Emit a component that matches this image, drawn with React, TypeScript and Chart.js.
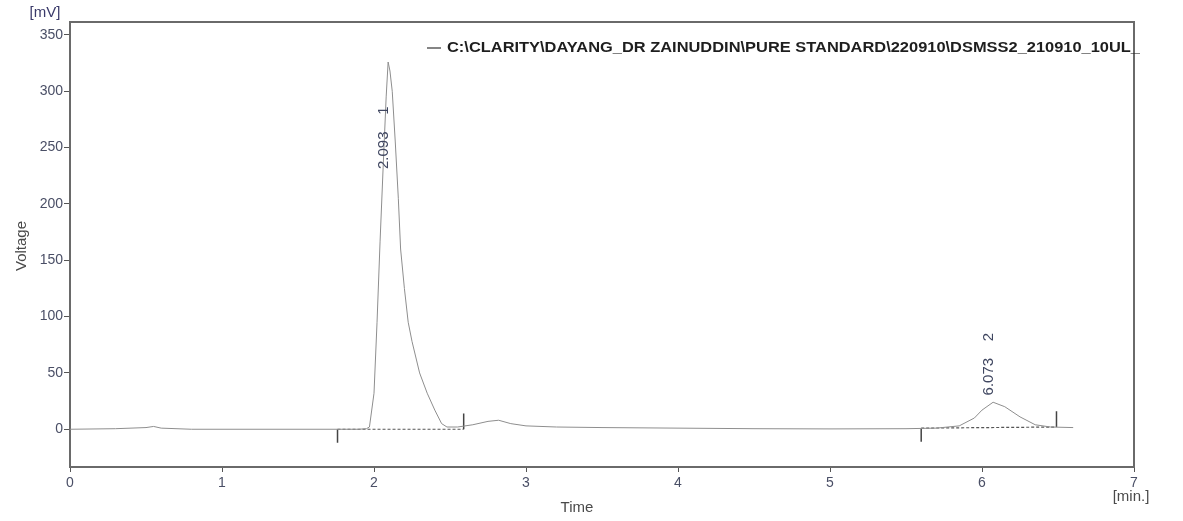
import React, { useEffect, useRef } from "react";
import { Chart, registerables } from "chart.js";

Chart.register(...registerables);

const times = [0, 0.3, 0.5, 0.55, 0.6, 0.8, 1.0, 1.5, 1.9, 1.95, 1.97, 2.0, 2.02, 2.04, 2.06, 2.08, 2.093, 2.105, 2.12, 2.14, 2.16, 2.175, 2.2, 2.225, 2.25, 2.3, 2.35, 2.4, 2.445, 2.48, 2.55, 2.65, 2.75, 2.82, 2.9, 3.0, 3.2, 3.5, 4.0, 4.5, 5.0, 5.5, 5.7, 5.85, 5.95, 6.0, 6.073, 6.15, 6.25, 6.35, 6.45, 6.6];
const voltages = [0, 0.5, 1.5, 2.5, 1, 0, 0, 0, 0, 0.5, 2, 32, 95, 167, 232, 295, 326, 318, 300, 255, 205, 160, 125, 95, 78, 50, 32, 17, 5, 2, 2, 4, 7, 8, 5, 3, 2, 1.5, 1, 0.5, 0.3, 0.5, 1, 3, 10, 17, 24, 20, 11, 4, 2, 1.5];

const peakTimes = [2.093, 6.073];
const peakNumbers = ["1", "2"];
const peakLabelValues = [231, 30];

const baselineStart = [1.76, 5.6];
const baselineEnd = [2.59, 6.49];
const baselineStartY = [0, 1];
const baselineEndY = [0, 2];

const xTicks = [0, 1, 2, 3, 4, 5, 6, 7];
const yTicks = [0, 50, 100, 150, 200, 250, 300, 350];

const legendText = "C:\\CLARITY\\DAYANG_DR ZAINUDDIN\\PURE STANDARD\\220910\\DSMSS2_210910_10UL_";

const FONT = "'Liberation Sans', Arial, sans-serif";

export default function App() {
  const ref = useRef<HTMLCanvasElement | null>(null);
  useEffect(() => {
    document.body.style.margin = "0";
    const canvas = ref.current!;
    const trace = times.map((t, i) => ({ x: t, y: voltages[i] }));
    const baselineSets: any[] = [];
    baselineStart.forEach((s, i) => {
      baselineSets.push({
        data: [{ x: s, y: baselineStartY[i] }, { x: baselineEnd[i], y: baselineEndY[i] }],
        borderColor: "#555",
        borderWidth: 1.2,
        borderDash: [3, 2],
        pointRadius: 0,
        showLine: true,
        tension: 0,
      });
      baselineSets.push({
        data: [{ x: s, y: baselineStartY[i] }, { x: s, y: baselineStartY[i] - 12 }],
        borderColor: "#444",
        borderWidth: 1.5,
        pointRadius: 0,
        showLine: true,
      });
      baselineSets.push({
        data: [{ x: baselineEnd[i], y: baselineEndY[i] }, { x: baselineEnd[i], y: baselineEndY[i] + 14 }],
        borderColor: "#444",
        borderWidth: 1.5,
        pointRadius: 0,
        showLine: true,
      });
    });

    const decor = {
      id: "decor",
      afterDraw(chart: any) {
        const ctx = chart.ctx;
        const { left, right, top, bottom } = chart.chartArea;
        const xs = chart.scales.x;
        const ys = chart.scales.y;
        ctx.save();
        // frame top & right
        ctx.strokeStyle = "#6a6a6a";
        ctx.lineWidth = 2;
        ctx.beginPath();
        ctx.moveTo(left, top);
        ctx.lineTo(right, top);
        ctx.lineTo(right, bottom);
        ctx.stroke();
        // axis titles
        ctx.fillStyle = "#4a4a4a";
        ctx.font = `15px ${FONT}`;
        ctx.textAlign = "center";
        ctx.textBaseline = "middle";
        ctx.fillText("Time", 577, 508);
        ctx.fillText("[min.]", 1131, 497);
        ctx.fillStyle = "#3a3a6a";
        ctx.fillText("[mV]", 45, 13);
        ctx.fillStyle = "#4a4a4a";
        ctx.save();
        ctx.translate(22, 246);
        ctx.rotate(-Math.PI / 2);
        ctx.fillText("Voltage", 0, 0);
        ctx.restore();
        // peak labels
        ctx.fillStyle = "#3f4660";
        ctx.font = `15px ${FONT}`;
        peakTimes.forEach((t, i) => {
          const px = xs.getPixelForValue(t) - 4;
          const py = ys.getPixelForValue(peakLabelValues[i]);
          ctx.save();
          ctx.translate(px, py);
          ctx.rotate(-Math.PI / 2);
          ctx.textAlign = "left";
          ctx.textBaseline = "middle";
          ctx.fillText(t.toFixed(3) + "    " + peakNumbers[i], 0, 0);
          ctx.restore();
        });
        // legend
        ctx.strokeStyle = "#333";
        ctx.lineWidth = 1.2;
        ctx.beginPath();
        ctx.moveTo(427, 48);
        ctx.lineTo(441, 48);
        ctx.stroke();
        ctx.font = `bold 14px 'Liberation Sans Narrow', ${FONT}`;
        ctx.fillStyle = "#1e1e1e";
        ctx.textAlign = "left";
        ctx.textBaseline = "middle";
        const w = ctx.measureText(legendText).width;
        const target = 693;
        ctx.save();
        ctx.translate(447, 48);
        ctx.scale(target / w, 1);
        ctx.fillText(legendText, 0, 0);
        ctx.restore();
        ctx.restore();
      },
    };

    const chart = new Chart(canvas, {
      type: "scatter",
      data: {
        datasets: [
          {
            data: trace,
            borderColor: "#8e8e8e",
            borderWidth: 1,
            pointRadius: 0,
            showLine: true,
            tension: 0,
          },
          ...baselineSets,
        ],
      },
      options: {
        animation: false,
        responsive: true,
        maintainAspectRatio: false,
        layout: { padding: { top: 22, right: 49, left: 0, bottom: 0 } },
        plugins: { legend: { display: false }, tooltip: { enabled: false } },
        scales: {
          x: {
            type: "linear",
            min: 0,
            max: 7,
            afterBuildTicks: (s: any) => {
              s.ticks = xTicks.map((v) => ({ value: v }));
            },
            afterFit: (s: any) => {
              s.height = 54;
            },
            grid: { display: true, drawOnChartArea: false, drawTicks: true, tickLength: 5, color: "#555" },
            border: { display: true, color: "#6a6a6a", width: 2 },
            ticks: { font: { size: 14, family: FONT }, color: "#4a4f66", padding: 3, maxRotation: 0 },
          },
          y: {
            type: "linear",
            min: -33.5,
            max: 361.5,
            afterBuildTicks: (s: any) => {
              s.ticks = yTicks.map((v) => ({ value: v }));
            },
            afterFit: (s: any) => {
              s.width = 70;
            },
            grid: { display: true, drawOnChartArea: false, drawTicks: true, tickLength: 6, color: "#555" },
            border: { display: true, color: "#6a6a6a", width: 2 },
            ticks: { font: { size: 14, family: FONT }, color: "#4a4f66", padding: 1 },
          },
        },
      },
      plugins: [decor],
    });
    return () => chart.destroy();
  }, []);
  return (
    <div style={{ position: "fixed", left: 0, top: 0, width: 1183, height: 521, background: "#fff" }}>
      <canvas ref={ref} />
    </div>
  );
}
